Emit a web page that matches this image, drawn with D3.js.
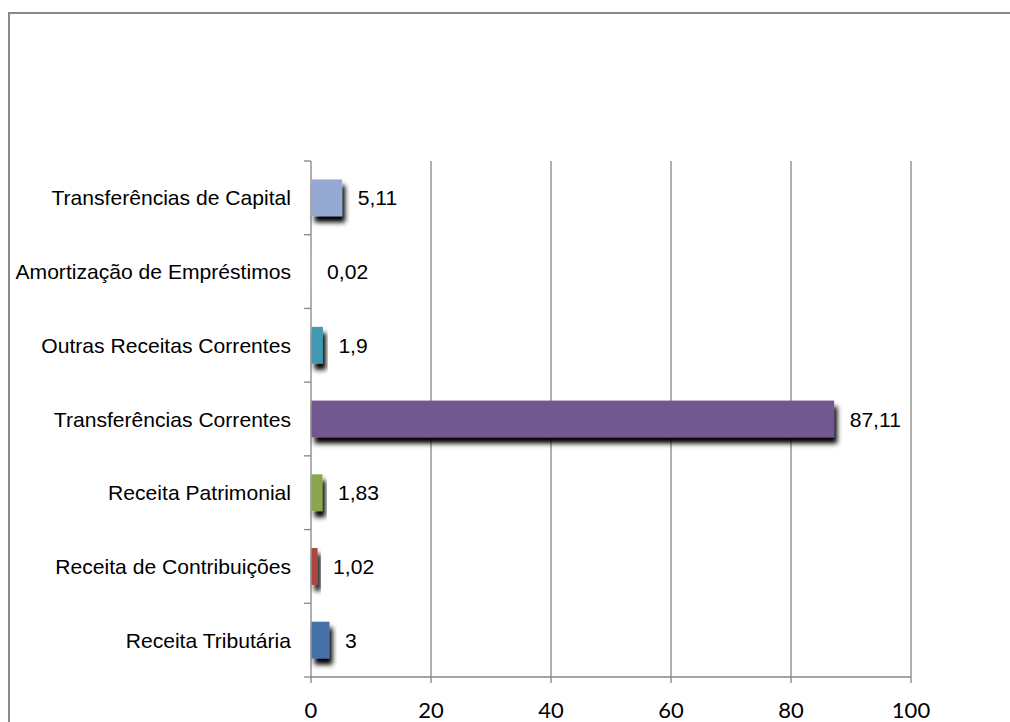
<!DOCTYPE html>
<html><head><meta charset="utf-8">
<script src="https://cdn.jsdelivr.net/npm/d3@7"></script>
<style>html,body{margin:0;padding:0;background:#fff;overflow:hidden}</style>
</head><body>
<script>
const categories = ["Transferências de Capital","Amortização de Empréstimos","Outras Receitas Correntes","Transferências Correntes","Receita Patrimonial","Receita de Contribuições","Receita Tributária"];
const values = [5.11, 0.02, 1.9, 87.11, 1.83, 1.02, 3];
const valueLabels = ["5,11","0,02","1,9","87,11","1,83","1,02","3"];
const colors = ["#95A9D2","#E9B48A","#4299AF","#71588F","#89A54E","#AA4643","#4471A7"];
const xTicks = [0,20,40,60,80,100];

const W=1010,H=722;
const svg=d3.select("body").append("svg").attr("width",W).attr("height",H);
const defs=svg.append("defs");
const f=defs.append("filter").attr("id","sh").attr("x","-30%").attr("y","-40%").attr("width","170%").attr("height","200%");
f.append("feDropShadow").attr("dx",3).attr("dy",6).attr("stdDeviation",2.8).attr("flood-color","#000").attr("flood-opacity",1);

svg.append("rect").attr("x",9).attr("y",13).attr("width",1010).attr("height",720)
  .attr("fill","none").attr("stroke","#8a8a8a").attr("stroke-width",2);

const x=d3.scaleLinear().domain([0,100]).range([311,911]);
const y=d3.scaleBand().domain(categories).range([161,677]).paddingInner(0.5).paddingOuter(0.25);

// grid
svg.append("g").selectAll("line").data(xTicks.slice(1)).join("line")
  .attr("x1",d=>x(d)).attr("x2",d=>x(d)).attr("y1",161).attr("y2",683)
  .attr("stroke","#868686").attr("stroke-width",1.3);
// axes
svg.append("line").attr("x1",311).attr("x2",911).attr("y1",677).attr("y2",677).attr("stroke","#868686").attr("stroke-width",1.3);
svg.append("line").attr("x1",311).attr("x2",311).attr("y1",161).attr("y2",683).attr("stroke","#868686").attr("stroke-width",1.3);
svg.append("g").selectAll("text").data(xTicks).join("text")
  .attr("x",d=>x(d)).attr("y",718).attr("text-anchor","middle")
  .attr("font-family","Lato, sans-serif").attr("font-size",22).attr("fill","#000").text(d=>d);
// y ticks at band boundaries
const bounds=d3.range(categories.length+1).map(i=>161+i*(516/7));
svg.append("g").selectAll("line").data(bounds).join("line")
  .attr("x1",304).attr("x2",311).attr("y1",d=>d).attr("y2",d=>d)
  .attr("stroke","#868686").attr("stroke-width",1.3);
// category labels
svg.append("g").selectAll("text").data(categories).join("text")
  .attr("x",291).attr("y",d=>y(d)+y.bandwidth()/2).attr("dy","0.36em").attr("text-anchor","end")
  .attr("font-family","'Liberation Sans', Arial, sans-serif").attr("font-size",21.1).attr("fill","#000").text(d=>d);
// bars
const data=categories.map((c,i)=>({c,v:values[i],l:valueLabels[i],col:colors[i]}));
svg.append("g").selectAll("rect").data(data).join("rect")
  .attr("x",x(0)+0.5).attr("y",d=>y(d.c)).attr("width",d=>Math.max(x(d.v)-x(0),0.5)).attr("height",y.bandwidth())
  .attr("fill",d=>d.col).attr("filter",d=>d.v>0.5?"url(#sh)":null);
// value labels
svg.append("g").selectAll("text").data(data).join("text")
  .attr("x",d=>x(d.v)+16).attr("y",d=>y(d.c)+y.bandwidth()/2).attr("dy","0.36em")
  .attr("font-family","'Liberation Sans', Arial, sans-serif").attr("font-size",21.1).attr("fill","#000").text(d=>d.l);
</script>
</body></html>
